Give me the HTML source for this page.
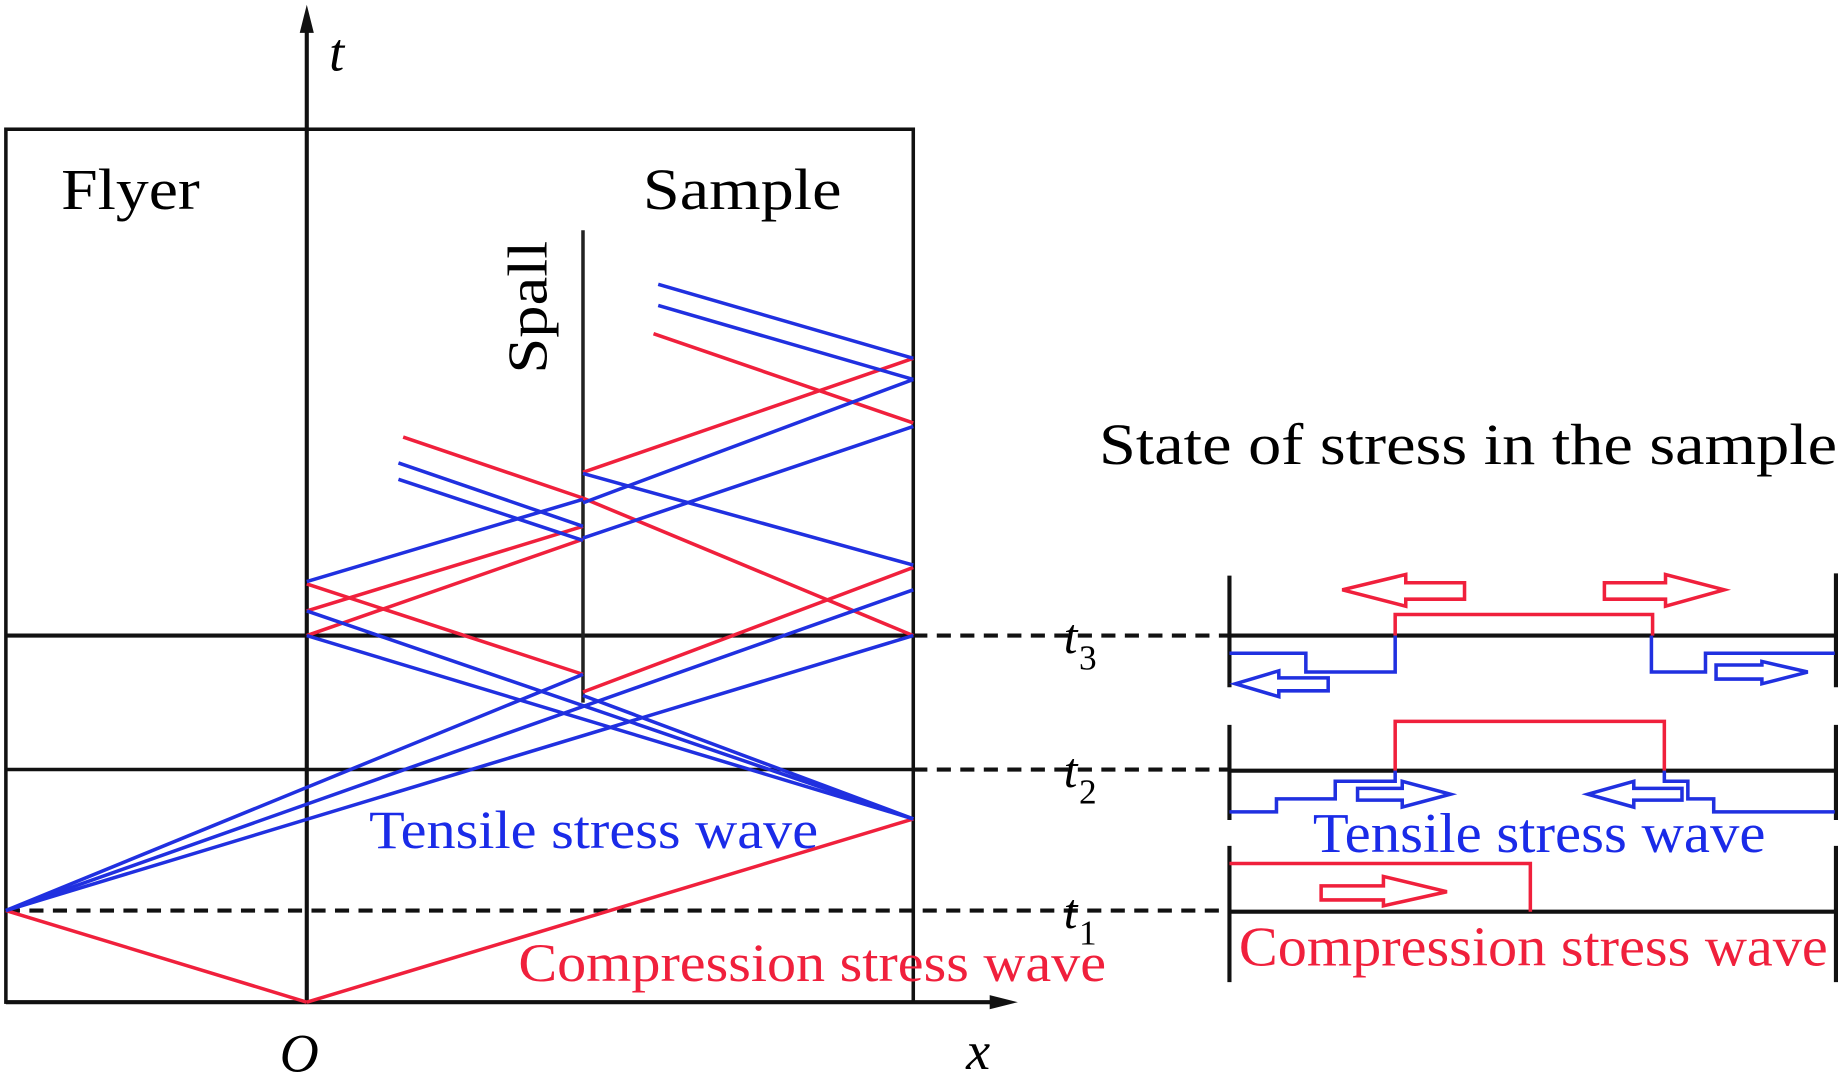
<!DOCTYPE html>
<html><head><meta charset="utf-8"><style>
html,body{margin:0;padding:0;background:#fff;}
svg{display:block;}
text{font-family:"Liberation Serif",serif;}
</style></head><body>
<svg width="1843" height="1075" viewBox="0 0 1568 915" preserveAspectRatio="none" xmlns="http://www.w3.org/2000/svg">
<!-- box -->
<rect x="5" y="110" width="772" height="743" fill="none" stroke="#111" stroke-width="3"/>
<!-- axes -->
<line x1="261" y1="18" x2="261" y2="853" stroke="#111" stroke-width="3.5"/>
<polygon points="261,4 255,28 267,28" fill="#111"/>
<line x1="5" y1="853" x2="850" y2="853" stroke="#111" stroke-width="3.5"/>
<polygon points="866,853 842,847 842,859" fill="#111"/>
<!-- t lines -->
<line x1="5" y1="541" x2="777" y2="541" stroke="#111" stroke-width="3.5"/>
<line x1="5" y1="655" x2="777" y2="655" stroke="#111" stroke-width="3"/>
<g stroke="#111" stroke-width="3.5" stroke-dasharray="12,8">
<line x1="777" y1="541" x2="1046" y2="541"/>
<line x1="777" y1="655" x2="1046" y2="655"/>
<line x1="5" y1="775" x2="1046" y2="775"/>
</g>
<!-- spall -->
<line x1="496" y1="196" x2="496" y2="598" stroke="#222" stroke-width="3"/>
<!-- red lines -->
<g stroke="#f0203c" stroke-width="3" fill="none">
<line x1="5" y1="775" x2="261" y2="853"/>
<line x1="261" y1="853" x2="777" y2="697"/>
<line x1="261" y1="497" x2="496" y2="574"/>
<line x1="496" y1="589" x2="777" y2="483"/>
<line x1="261" y1="520" x2="496" y2="448"/>
<line x1="261" y1="541" x2="496" y2="459"/>
<line x1="343" y1="372" x2="496" y2="424"/>
<line x1="496" y1="424" x2="777" y2="541"/>
<line x1="496" y1="402" x2="777" y2="305"/>
<line x1="556" y1="284" x2="777" y2="360"/>
</g>
<!-- blue lines -->
<g stroke="#2030e0" stroke-width="3" fill="none">
<line x1="5" y1="775" x2="496" y2="574"/>
<line x1="5" y1="775" x2="777" y2="502"/>
<line x1="5" y1="775" x2="777" y2="541"/>
<line x1="777" y1="697" x2="261" y2="541"/>
<line x1="777" y1="697" x2="261" y2="520"/>
<line x1="777" y1="697" x2="496" y2="592"/>
<line x1="261" y1="495" x2="496" y2="425"/>
<line x1="339" y1="394" x2="496" y2="448"/>
<line x1="339" y1="408" x2="496" y2="460"/>
<line x1="496" y1="403" x2="777" y2="481"/>
<line x1="496" y1="428" x2="777" y2="323"/>
<line x1="496" y1="458" x2="777" y2="363"/>
<line x1="560" y1="242" x2="777" y2="305"/>
<line x1="560" y1="260" x2="777" y2="323"/>
</g>
<!-- left labels -->
<text x="280" y="60" font-size="46" font-style="italic">t</text>
<text x="238" y="912" font-size="46" font-style="italic">O</text>
<text x="822" y="910" font-size="46" font-style="italic">x</text>
<text x="52" y="178" font-size="50" textLength="118" lengthAdjust="spacingAndGlyphs">Flyer</text>
<text x="547" y="178" font-size="50" textLength="169" lengthAdjust="spacingAndGlyphs">Sample</text>
<text transform="translate(465,318) rotate(-90)" font-size="48" textLength="113" lengthAdjust="spacingAndGlyphs">Spall</text>
<text x="314" y="722" font-size="46" fill="#1a2be8" textLength="382" lengthAdjust="spacingAndGlyphs">Tensile stress wave</text>
<text x="441" y="835" font-size="46" fill="#f0203c" textLength="500" lengthAdjust="spacingAndGlyphs">Compression stress wave</text>
<!-- t labels -->
<text x="905" y="556" font-size="42" font-style="italic">t</text><text x="918" y="570" font-size="30">3</text>
<text x="905" y="670" font-size="42" font-style="italic">t</text><text x="918" y="684" font-size="30">2</text>
<text x="905" y="790" font-size="42" font-style="italic">t</text><text x="918" y="804" font-size="30">1</text>
<!-- right panel -->
<text x="935" y="395" font-size="50" textLength="628" lengthAdjust="spacingAndGlyphs">State of stress in the sample</text>
<g stroke="#111" stroke-width="3.5">
<line x1="1046" y1="490" x2="1046" y2="585"/>
<line x1="1562" y1="488" x2="1562" y2="585"/>
<line x1="1046" y1="617" x2="1046" y2="698"/>
<line x1="1562" y1="617" x2="1562" y2="698"/>
<line x1="1046" y1="720" x2="1046" y2="836"/>
<line x1="1562" y1="720" x2="1562" y2="836"/>
<line x1="1046" y1="541" x2="1562" y2="541"/>
<line x1="1046" y1="656" x2="1562" y2="656"/>
<line x1="1046" y1="776" x2="1562" y2="776"/>
</g>
<g fill="none" stroke="#f0203c" stroke-width="3">
<polyline points="1187,541 1187,523 1406,523 1406,541"/>
<polyline points="1187,656 1187,614 1416,614 1416,656"/>
<polyline points="1046,735 1302,735 1302,776"/>
<polygon points="1142,502 1196,489 1196,496 1246,496 1246,510 1196,510 1196,516"/>
<polygon points="1467,502 1417,489 1417,496 1365,496 1365,510 1417,510 1417,516"/>
<polygon points="1231,759 1177,746 1177,754 1124,754 1124,766 1177,766 1177,771"/>
</g>
<g fill="none" stroke="#2030e0" stroke-width="3">
<polyline points="1046,556 1111,556 1111,572 1187,572 1187,541"/>
<polyline points="1405,541 1405,572 1451,572 1451,556 1561,556"/>
<polygon points="1051,582 1088,571 1088,577 1130,577 1130,588 1088,588 1088,593"/>
<polygon points="1538,572 1499,563 1499,566 1460,566 1460,578 1499,578 1499,582"/>
<polyline points="1046,691 1086,691 1086,680 1136,680 1136,665 1187,665 1187,656"/>
<polyline points="1416,656 1416,665 1436,665 1436,680 1458,680 1458,691 1561,691"/>
<polygon points="1234,676 1193,665 1193,671 1155,671 1155,681 1193,681 1193,687"/>
<polygon points="1351,676 1390,665 1390,671 1431,671 1431,681 1390,681 1390,687"/>
</g>
<text x="1117" y="725" font-size="48" fill="#1a2be8" textLength="385" lengthAdjust="spacingAndGlyphs">Tensile stress wave</text>
<text x="1054" y="822" font-size="48" fill="#f0203c" textLength="501" lengthAdjust="spacingAndGlyphs">Compression stress wave</text>
</svg>
</body></html>
